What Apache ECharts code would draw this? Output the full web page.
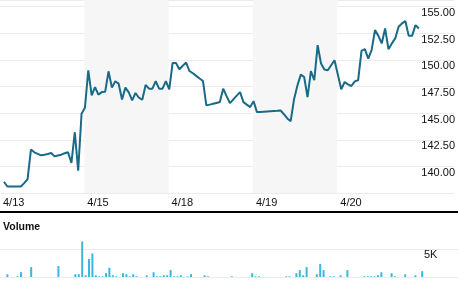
<!DOCTYPE html>
<html><head><meta charset="utf-8">
<script src="https://cdn.jsdelivr.net/npm/echarts@6/dist/echarts.min.js"></script>
<style>html,body{margin:0;padding:0;background:#fff}#c{width:458px;height:292px}</style>
</head><body><div id="c"></div>
<script>
// Day labels (x-axis)
const dayLabels = ['4/13', '4/15', '4/18', '4/19', '4/20'];
// Price per 15-min slot, one array per trading day
const price413 = [138.56,138.11,138.11,138.11,138.11,138.11,138.43,138.81,141.58,141.32,141.18,141.04,141.1,141.17,141.26,140.94,141.02,141.1,141.23,141.32,140.32,143.21,139.59,144.94,145.51];
const price415 = [149.03,146.67,147.45,146.74,146.98,147.0,148.93,147.4,147.99,147.77,146.29,147.4,146.95,146.2,146.89,146.45,146.26,147.65,147.3,147.3,148.0,147.3,147.3,148.0,147.24];
const price418 = [149.72,149.72,149.12,149.45,149.75,148.96,148.75,148.5,148.25,148.02,145.73,145.8,145.88,145.96,146.04,147.3,146.6,145.94,146.3,146.65,146.98,146.04,145.8,145.57,146.13];
const price419 = [145.1,145.12,145.14,145.16,145.18,145.2,145.22,145.25,144.9,144.5,144.25,146.3,147.6,148.62,148.4,146.51,148.96,148.09,151.39,149.66,149.1,149.03,149.5,149.97,148.6];
const price420 = [147.24,147.93,147.7,147.55,147.99,148.09,150.85,151.01,150.13,150.92,152.8,152.26,151.55,152.96,151.01,151.55,152.02,153.11,153.43,153.65,152.26,152.26,153.27,152.96];
// Volume per slot
const vol413 = [0,490,0,0,120,850,0,0,1770,0,0,0,0,0,0,0,1950,0,0,0,0,490,490,6340,300];
const vol415 = [3230,4200,300,120,120,670,1650,300,120,0,670,490,120,490,120,0,0,300,0,850,120,120,300,300,1220];
const vol418 = [120,120,300,0,120,490,0,0,0,300,120,0,0,0,0,0,0,120,0,0,0,0,0,670,120];
const vol419 = [120,0,0,0,0,0,0,0,120,120,0,670,1220,300,1770,0,0,490,2320,1220,0,120,120,0,300];
const vol420 = [0,1220,0,0,0,0,120,120,120,120,300,850,0,0,670,120,0,0,490,0,0,300,0,1040];
// Price axis ticks
const priceTicks = [140, 142.5, 145, 147.5, 150, 152.5, 155];

const SLOTS = 25;
const priceDays = [price413, price415, price418, price419, price420];
const volDays = [vol413, vol415, vol418, vol419, vol420];
const lineData = [], volData = [];
priceDays.forEach((arr, d) => arr.forEach((v, k) => lineData.push([d * SLOTS + k, v])));
volDays.forEach((arr, d) => arr.forEach((v, k) => { if (v > 0) volData.push([d * SLOTS + k, v]); }));

const X0 = -1.176, X1 = 133.53;
const bandStart = d => d * SLOTS + X0;
const FONT = "'Liberation Sans Narrow','Arial Narrow','Liberation Sans',sans-serif";

const chart = echarts.init(document.getElementById('c'), null, {renderer: 'canvas'});
chart.setOption({
  animation: false,
  grid: [
    {left: 0, right: 0, top: 0, height: 193},
    {left: 0, right: 0, top: 249, height: 28}
  ],
  xAxis: [
    {type: 'value', gridIndex: 0, min: X0, max: X1,
     axisLine: {show: false}, axisTick: {show: false}, splitLine: {show: false},
     axisLabel: {customValues: dayLabels.map((_, i) => i * SLOTS),
       formatter: v => dayLabels[Math.round(v / SLOTS)], align: 'left', margin: 4,
       color: '#111', fontSize: 11, fontFamily: FONT, padding: [0,0,0,-1]}},
    {type: 'value', gridIndex: 1, min: X0, max: X1, show: false}
  ],
  yAxis: [
    {type: 'value', gridIndex: 0, min: 137.5, max: 155.63, interval: 2.5, position: 'right', offset: -34, z: 1,
     axisLine: {show: false}, axisTick: {show: false},
     splitLine: {lineStyle: {color: '#ebebeb', width: 1}},
     axisLabel: {customValues: priceTicks, formatter: v => v.toFixed(2), align: 'left', margin: 1,
       verticalAlign: 'top', padding: [1,0,0,0], color: '#111', fontSize: 11, fontFamily: FONT}},
    {type: 'value', gridIndex: 1, min: 0, max: 5000, interval: 5000, position: 'right', offset: -34, z: 1,
     axisLine: {show: false}, axisTick: {show: false},
     splitLine: {lineStyle: {color: '#ebebeb', width: 1}},
     axisLabel: {formatter: v => v === 5000 ? '5K' : '', align: 'left', margin: 0,
       verticalAlign: 'top', padding: [0,0,0,0], color: '#111', fontSize: 11, fontFamily: FONT}}
  ],
  series: [
    {type: 'line', xAxisIndex: 0, yAxisIndex: 0, data: [], z: 0, silent: true,
     markArea: {silent: true, itemStyle: {color: '#f6f6f6'},
       data: [[{xAxis: bandStart(1)}, {xAxis: bandStart(2)}], [{xAxis: bandStart(3)}, {xAxis: bandStart(4)}]]}},
    {type: 'line', xAxisIndex: 0, yAxisIndex: 0, data: lineData, z: 3, symbol: 'none',
     lineStyle: {color: '#1a6987', width: 2}},
    {type: 'bar', xAxisIndex: 1, yAxisIndex: 1, data: volData, barWidth: 2, clip: false, z: 3,
     itemStyle: {color: '#38b6e4'}}
  ],
  graphic: [
    {type: 'rect', shape: {x: 0, y: 211, width: 458, height: 2}, style: {fill: '#000'}},
    {type: 'text', x: 3, y: 222, style: {text: 'Volume', font: "bold 10.5px 'Liberation Sans', Arial, sans-serif", fill: '#111'}}
  ]
});
</script></body></html>
